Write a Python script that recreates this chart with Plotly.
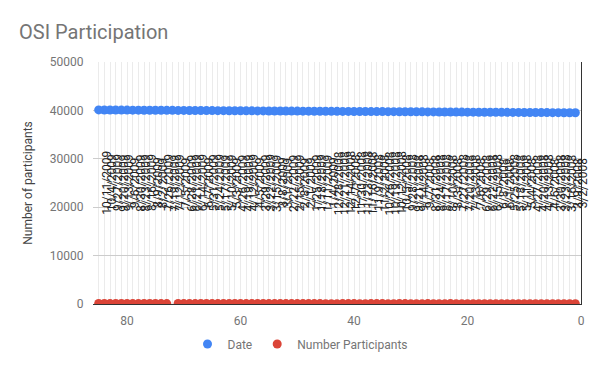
import plotly.graph_objects as go

# x index (1 = 3/2/2008 ... 85 = 10/11/2009)
idx = list(range(1, 86))

date_labels = [
    "3/2/2008", "3/9/2008", "3/16/2008", "3/23/2008", "3/30/2008", "4/6/2008", "4/13/2008",
    "4/20/2008", "4/27/2008", "5/4/2008", "5/11/2008", "5/18/2008", "5/25/2008", "6/1/2008",
    "6/8/2008", "6/15/2008", "6/22/2008", "6/29/2008", "7/6/2008", "7/13/2008", "7/20/2008",
    "7/27/2008", "8/3/2008", "8/10/2008", "8/17/2008", "8/24/2008", "8/31/2008", "9/7/2008",
    "9/14/2008", "9/21/2008", "9/28/2008", "10/5/2008", "10/12/2008", "10/19/2008", "10/26/2008",
    "11/2/2008", "11/9/2008", "11/16/2008", "11/23/2008", "11/30/2008", "12/7/2008", "12/14/2008",
    "12/21/2008", "12/28/2008",
    "1/4/2009", "1/11/2009", "1/18/2009", "1/25/2009", "2/1/2009", "2/8/2009", "2/15/2009",
    "2/22/2009", "3/1/2009", "3/8/2009", "3/15/2009", "3/22/2009", "3/29/2009", "4/5/2009",
    "4/12/2009", "4/19/2009", "4/26/2009", "5/3/2009", "5/10/2009", "5/17/2009", "5/24/2009",
    "5/31/2009", "6/7/2009", "6/14/2009", "6/21/2009", "6/28/2009", "7/5/2009", "7/12/2009",
    "7/19/2009", "7/26/2009", "8/2/2009", "8/9/2009", "8/16/2009", "8/23/2009", "8/30/2009",
    "9/6/2009", "9/13/2009", "9/20/2009", "9/27/2009", "10/4/2009", "10/11/2009",
]

# "Date" series: spreadsheet date serial numbers
date_values = [
    39509, 39516, 39523, 39530, 39537, 39544, 39551, 39558, 39565, 39572,
    39579, 39586, 39593, 39600, 39607, 39614, 39621, 39628, 39635, 39642,
    39649, 39656, 39663, 39670, 39677, 39684, 39691, 39698, 39705, 39712,
    39719, 39726, 39733, 39740, 39747, 39754, 39761, 39768, 39775, 39782,
    39789, 39796, 39803, 39810, 39817, 39824, 39831, 39838, 39845, 39852,
    39859, 39866, 39873, 39880, 39887, 39894, 39901, 39908, 39915, 39922,
    39929, 39936, 39943, 39950, 39957, 39964, 39971, 39978, 39985, 39992,
    39999, 40006, 40013, 40020, 40027, 40034, 40041, 40048, 40055, 40062,
    40069, 40076, 40083, 40090, 40097,
]

# "Number Participants" series (small counts, all near zero on this scale)
participants = [
    62, 58, 71, 66, 60, 74, 69, 65, 72, 68,
    75, 70, 64, 59, 67, 73, 76, 70, 63, 61,
    66, 72, 78, 74, 69, 71, 80, 77, 73, 75,
    79, 82, 76, 74, 81, 85, 78, 72, 70, 83,
    86, 80, 68, 64, 77, 84, 88, 82, 79, 85,
    90, 87, 83, 80, 86, 92, 89, 84, 81, 88,
    93, 90, 86, 84, 91, 95, 92, 88, 85, 90,
    94, None, 89, 87, 92, 96, 93, 90, 88, 95,
    98, 94, 91, 97, 99,
]

BLUE = "#4285F4"
RED = "#DB4437"
FONT = "Roboto"

fig = go.Figure()
fig.add_trace(go.Scatter(
    x=idx, y=date_values, mode="markers", name="Date",
    marker=dict(color=BLUE, size=9, line=dict(width=0)),
))
fig.add_trace(go.Scatter(
    x=idx, y=participants, mode="markers", name="Number Participants",
    marker=dict(color=RED, size=9, line=dict(width=0)),
))
# invisible trace to host a right-side axis line
fig.add_trace(go.Scatter(x=[idx[0]], y=[0], yaxis="y2", mode="markers",
                         marker=dict(opacity=0), showlegend=False, hoverinfo="skip"))

annotations = []
for xi, lab in zip(idx, date_labels):
    annotations.append(dict(
        x=xi, xref="x", y=0.5, yref="paper", text=lab, showarrow=False,
        textangle=-90, xanchor="center", yanchor="middle", xshift=8,
        font=dict(family=FONT, size=12, color="#222222"),
    ))

fig.update_layout(
    width=600, height=371,
    margin=dict(l=93, r=19, t=62, b=67, autoexpand=False),
    paper_bgcolor="white", plot_bgcolor="white",
    font=dict(family=FONT, size=12, color="#757575"),
    title=dict(text="OSI Participation", x=19 / 600, xanchor="left", xref="container",
               y=1 - 32 / 371, yanchor="middle", yref="container",
               font=dict(family=FONT, size=20, color="#757575")),
    showlegend=True,
    legend=dict(orientation="h", xref="container", x=0.5, xanchor="center",
                yref="container", y=1 - 344 / 371, yanchor="middle",
                font=dict(family=FONT, size=12, color="#757575"),
                itemclick=False, traceorder="normal"),
    xaxis=dict(range=[86, 0], tick0=0, dtick=20, showgrid=True, gridcolor="#ebebeb",
               minor=dict(dtick=1, tick0=0, showgrid=True, gridcolor="#ebebeb"),
               zeroline=False, showline=True, linecolor="#333333", linewidth=1,
               ticks="outside", ticklen=6, tickcolor="rgba(0,0,0,0)",
               tickfont=dict(family=FONT, size=12, color="#757575")),
    yaxis=dict(range=[0, 50000], tick0=0, dtick=10000, tickformat="d",
               showgrid=True, gridcolor="#cccccc",
               zeroline=False, showline=False,
               ticks="outside", ticklen=6, tickcolor="rgba(0,0,0,0)",
               tickfont=dict(family=FONT, size=12, color="#757575"),
               title=dict(text="Number of participants", standoff=14,
                          font=dict(family=FONT, size=12, color="#444444"))),
    yaxis2=dict(overlaying="y", side="right", range=[0, 50000], showgrid=False,
                zeroline=False, showticklabels=False, showline=True,
                linecolor="#333333", linewidth=1),
    annotations=annotations,
)

fig.write_html("out.html", config={"displayModeBar": False},
               post_script="document.body.style.margin='0px';")
